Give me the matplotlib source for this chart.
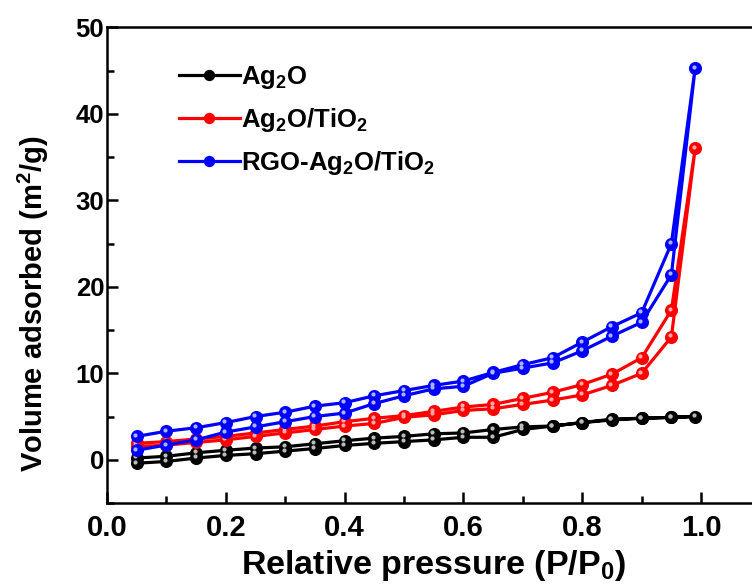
import matplotlib
matplotlib.use("Agg")
import matplotlib.pyplot as plt
import matplotlib.transforms as mtransforms
from matplotlib.ticker import MultipleLocator

plt.rcParams['font.family'] = ['Liberation Sans', 'DejaVu Sans']
plt.rcParams['font.weight'] = 'bold'
plt.rcParams['mathtext.fontset'] = 'custom'
plt.rcParams['mathtext.rm'] = 'Liberation Sans:bold'
plt.rcParams['mathtext.bf'] = 'Liberation Sans:bold'
plt.rcParams['mathtext.it'] = 'Liberation Sans:bold'
plt.rcParams['mathtext.default'] = 'bf'

# Relative pressure points
p_ads = [0.05, 0.10, 0.15, 0.20, 0.25, 0.30, 0.35, 0.40, 0.45, 0.50,
         0.55, 0.60, 0.65, 0.70, 0.75, 0.80, 0.85, 0.90, 0.95, 0.99]
p_des = [0.95, 0.90, 0.85, 0.80, 0.75, 0.70, 0.65, 0.60, 0.55, 0.50,
         0.45, 0.40, 0.35, 0.30, 0.25, 0.20, 0.15, 0.10, 0.05]

# Ag2O
ag2o_ads = [-0.4, -0.2, 0.2, 0.5, 0.7, 1.0, 1.3, 1.65, 1.9, 2.1,
            2.3, 2.6, 2.6, 3.5, 3.9, 4.3, 4.6, 4.8, 4.9, 5.0]
ag2o_des = [4.9, 4.8, 4.7, 4.3, 3.9, 3.8, 3.5, 3.1, 3.0, 2.7,
            2.5, 2.2, 1.85, 1.5, 1.35, 1.1, 0.8, 0.4, 0.2]
# Ag2O/TiO2
agti_ads = [1.5, 1.7, 2.0, 2.3, 2.7, 3.1, 3.5, 3.9, 4.2, 4.9,
            5.2, 5.7, 5.9, 6.4, 6.9, 7.5, 8.6, 10.0, 14.2, 36.0]
agti_des = [17.3, 11.8, 9.9, 8.7, 7.8, 7.1, 6.4, 6.1, 5.6, 5.1,
            4.8, 4.4, 3.9, 3.5, 3.1, 2.7, 2.4, 2.1, 1.9]
# RGO-Ag2O/TiO2
rgo_ads = [1.1, 1.7, 2.3, 3.2, 3.8, 4.4, 5.0, 5.4, 6.5, 7.4,
           8.2, 8.5, 10.0, 10.6, 11.2, 12.6, 14.3, 15.9, 21.4, 45.3]
rgo_des = [25.0, 17.0, 15.4, 13.6, 11.8, 11.0, 10.1, 9.1, 8.6, 8.0,
           7.4, 6.6, 6.2, 5.5, 5.0, 4.3, 3.7, 3.3, 2.7]

labels = [r'Ag$_2$O', r'Ag$_2$O/TiO$_2$', r'RGO-Ag$_2$O/TiO$_2$']
colors = ['black', '#ff0000', '#0000ff']
highlights = ['#bbbbbb', '#ffaaaa', '#aab4ff']

fig = plt.figure(figsize=(7.52, 5.88), dpi=100)
ax = fig.add_axes([0.1423, 0.1446, 0.869, 0.8087])

series = [(ag2o_ads, ag2o_des), (agti_ads, agti_des), (rgo_ads, rgo_des)]
hl_offset = mtransforms.offset_copy(ax.transData, fig=fig, x=-1.1, y=1.1, units='points')
handles = []
for (ads, des), lab, c, hc in zip(series, labels, colors, highlights):
    xs = p_ads + p_des
    ys = ads + des
    h, = ax.plot(xs, ys, '-o', color=c, lw=2.3, ms=8.4, mec=c, mfc=c, label=lab)
    ax.plot(xs, ys, 'o', color=hc, ms=3.0, mec='none', transform=hl_offset)
    handles.append(h)

ax.set_xlim(0, 1.1)
ax.set_ylim(-5, 50)
ax.xaxis.set_major_locator(MultipleLocator(0.2))
ax.xaxis.set_minor_locator(MultipleLocator(0.1))
ax.yaxis.set_major_locator(MultipleLocator(10))
ax.yaxis.set_minor_locator(MultipleLocator(5))
ax.tick_params(which='both', direction='in', width=1.8)
ax.tick_params(which='major', length=8)
ax.tick_params(which='minor', length=5)
ax.tick_params(axis='x', pad=8, labelsize=21)
ax.tick_params(axis='y', pad=2, labelsize=18.5)
for lab in ax.get_xticklabels() + ax.get_yticklabels():
    lab.set_fontweight('bold')
for s in ax.spines.values():
    s.set_linewidth(1.8)

ax.set_xlabel(r'Relative pressure (P/P$_0$)', fontsize=24.5, fontweight='bold', labelpad=4)
ax.set_ylabel(r'Volume adsorbed (m$^2$/g)', fontsize=21, fontweight='bold')
ax.yaxis.set_label_coords(-0.086, 0.42)

leg = ax.legend(handles=handles, loc='upper left', bbox_to_anchor=(0.075, 0.972),
                frameon=False, fontsize=18.5, handlelength=2.35, numpoints=1,
                labelspacing=0.58, handletextpad=0.05, markerscale=0.85)

fig.savefig('out.png', dpi=100)
